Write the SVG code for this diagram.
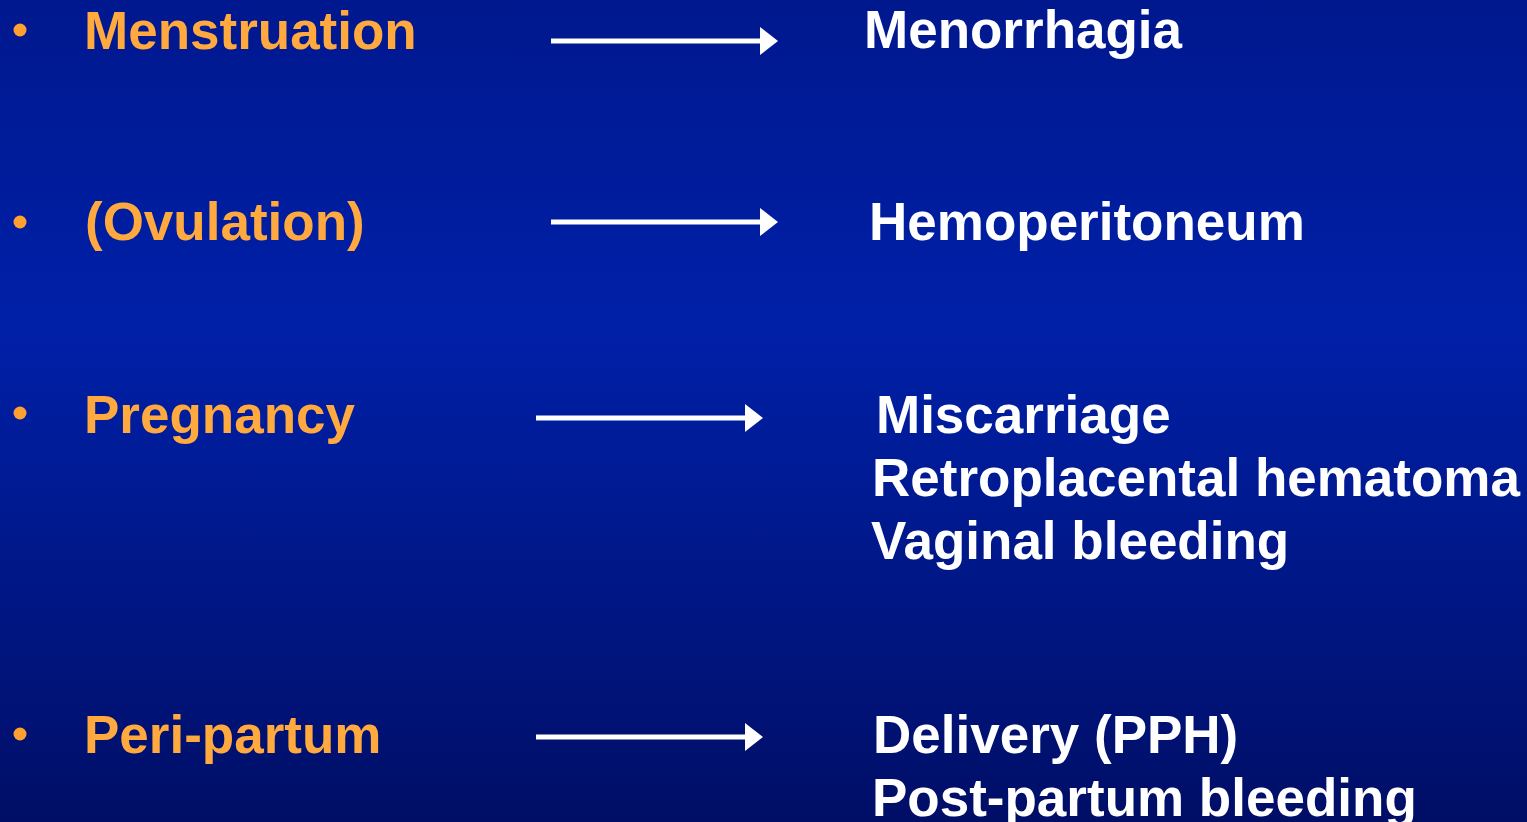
<svg xmlns="http://www.w3.org/2000/svg" width="1527" height="822" viewBox="0 0 1527 822">
<defs>
<linearGradient id="bg" x1="0" y1="0" x2="0" y2="1">
<stop offset="0" stop-color="#00188e"/>
<stop offset="0.4" stop-color="#0020a8"/>
<stop offset="1" stop-color="#000e66"/>
</linearGradient>
<marker id="ah" viewBox="0 0 10 10" refX="0" refY="5" markerWidth="18" markerHeight="28" markerUnits="userSpaceOnUse" orient="auto" preserveAspectRatio="none">
<path d="M0,0 L10,5 L0,10 Z" fill="#ffffff"/>
</marker>
<style>
.t{font-family:"Liberation Sans",Arial,sans-serif;font-weight:bold;font-size:53px}
.o{fill:#ffa93f}
.w{fill:#ffffff}
.b{fill:#ffa030}
.c{stroke:#ffffff;stroke-width:5;fill:none;marker-end:url(#ah)}
</style>
</defs>
<rect width="1527" height="822" fill="url(#bg)"/>
<g id="menstruation"><circle class="b" cx="20" cy="30" r="6.5"/><text class="t o" x="84" y="49">Menstruation</text></g>
<g id="ovulation"><circle class="b" cx="20" cy="222" r="6.5"/><text class="t o" x="85" y="240">(Ovulation)</text></g>
<g id="pregnancy"><circle class="b" cx="20" cy="413" r="6.5"/><text class="t o" x="84" y="433">Pregnancy</text></g>
<g id="peripartum"><circle class="b" cx="20" cy="734" r="6.5"/><text class="t o" x="84" y="753">Peri-partum</text></g>
<g id="menorrhagia"><text class="t w" x="864" y="48">Menorrhagia</text></g>
<g id="hemoperitoneum"><text class="t w" x="869" y="240">Hemoperitoneum</text></g>
<g id="pregnancy-outcomes"><text class="t w" x="876" y="433">Miscarriage</text><text class="t w" x="872" y="496">Retroplacental hematoma</text><text class="t w" x="871" y="559">Vaginal bleeding</text></g>
<g id="peripartum-outcomes"><text class="t w" x="873" y="753">Delivery (PPH)</text><text class="t w" x="872" y="816">Post-partum bleeding</text></g>
<g id="connectors">
<line class="c" x1="551" y1="41" x2="760" y2="41"/>
<line class="c" x1="551" y1="222" x2="760" y2="222"/>
<line class="c" x1="536" y1="418" x2="745" y2="418"/>
<line class="c" x1="536" y1="737" x2="745" y2="737"/>
</g>
</svg>
